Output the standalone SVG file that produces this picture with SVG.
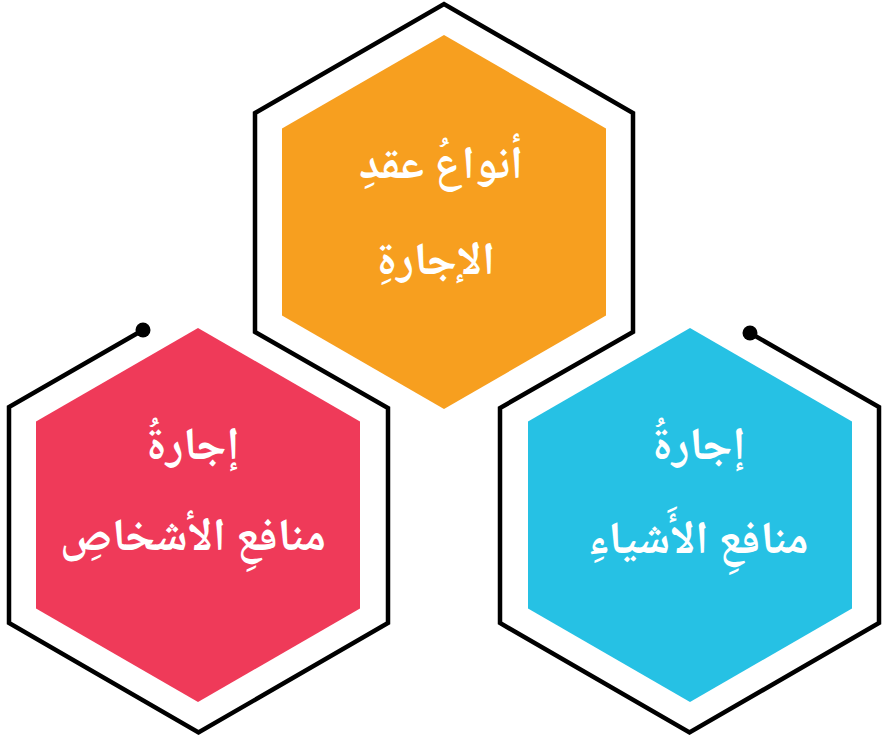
<svg xmlns="http://www.w3.org/2000/svg" width="887" height="745" viewBox="0 0 887 745">
<style>
.lbl{font-family:'Noto Naskh Arabic','Noto Sans Arabic','DejaVu Sans',sans-serif;font-size:46px;font-weight:bold;fill:#ffffff;text-anchor:middle;direction:rtl}
.outline{fill:none;stroke:#000000;stroke-width:4.5;stroke-linejoin:miter}
</style>
<rect width="887" height="745" fill="#ffffff"/>
<g id="connectors">
<path class="outline" d="M143,330 L9,407 L9,623 L198.5,732.5 L388,623 L388,408 L255,332 L255,113 L444,4 L633,113 L633,332 L500,408 L500,623 L689.5,732.5 L879,623 L879,407 L750,333"/>
<circle cx="143" cy="330" r="7.5" fill="#000000"/>
<circle cx="750" cy="333" r="7.5" fill="#000000"/>
</g>
<g id="node-top">
<polygon points="444,35 606,128.5 606,315.5 444,409 282,315.5 282,128.5" fill="#F79F1F"/>
<text class="lbl" x="441" y="178">أنواعُ عقدِ</text>
<text class="lbl" x="436" y="274">الإجارةِ</text>
</g>
<g id="node-left">
<polygon points="198,328 360,421.5 360,608.5 198,702 36,608.5 36,421.5" fill="#EF3A59"/>
<text class="lbl" x="193" y="459">إجارةُ</text>
<text class="lbl" x="193" y="550">منافعِ الأشخاصِ</text>
</g>
<g id="node-right">
<polygon points="690,328 852,421.5 852,608.5 690,702 528,608.5 528,421.5" fill="#26C1E4"/>
<text class="lbl" x="699" y="459">إجارةُ</text>
<text class="lbl" x="698" y="553">منافعِ الأَشياءِ</text>
</g>
</svg>
